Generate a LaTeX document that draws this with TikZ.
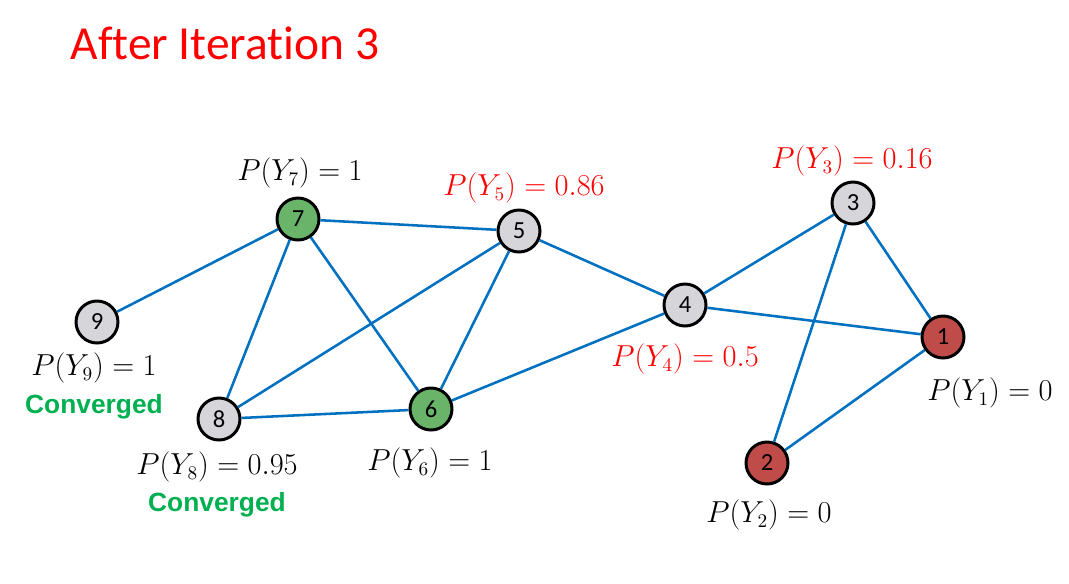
\documentclass[tikz,border=0pt]{standalone}
\usepackage{amsmath}
\usepackage{xcolor}
\usepackage[no-math]{fontspec}
\setmainfont[Ligatures=NoCommon]{Carlito}
\newfontfamily\arialfont{Liberation Sans}
\usepackage{tikz}
\usetikzlibrary{arrows.meta,positioning,calc}

\definecolor{edgeblue}{RGB}{0,112,192}
\definecolor{nodegray}{RGB}{214,214,218}
\definecolor{nodegreen}{RGB}{106,180,106}
\definecolor{nodered}{RGB}{192,76,74}
\definecolor{convgreen}{RGB}{0,176,80}

\begin{document}
\begin{tikzpicture}[
    x=0.02cm,y=-0.02cm,
    vtx/.style={circle, draw=black, line width=1.7pt, minimum size=0.84cm, inner sep=0pt, font=\fontsize{14}{15}\selectfont},
    plain/.style={vtx, fill=nodegray},
    done/.style={vtx, fill=nodegreen},
    seed/.style={vtx, fill=nodered},
    edge/.style={draw=edgeblue, line width=1.45pt},
    prob/.style={font=\fontsize{16}{18}\selectfont, inner sep=0pt},
    hot/.style={prob, text=red},
    conv/.style={font=\arialfont\bfseries\fontsize{15}{17}\selectfont, text=convgreen, inner sep=0pt},
    ttl/.style={font=\fontsize{27}{30}\selectfont, text=red, inner sep=0pt}
  ]
    \useasboundingbox (0,0) rectangle (1069,583);

    \node[ttl] (title) at (225,43) {After Iteration 3};

    \node[done] (n7) at (298,219) {7};
    \node[plain] (n5) at (519,231) {5};
    \node[plain] (n9) at (97,322) {9};
    \node[plain] (n8) at (219,419) {8};
    \node[done] (n6) at (431,409) {6};
    \node[plain] (n4) at (685,305) {4};
    \node[plain] (n3) at (853,203) {3};
    \node[seed] (n1) at (943,337) {1};
    \node[seed] (n2) at (767,463) {2};

    \draw[edge] (n7) -- (n9);
    \draw[edge] (n7) -- (n5);
    \draw[edge] (n7) -- (n8);
    \draw[edge] (n7) -- (n6);
    \draw[edge] (n5) -- (n8);
    \draw[edge] (n5) -- (n6);
    \draw[edge] (n5) -- (n4);
    \draw[edge] (n8) -- (n6);
    \draw[edge] (n6) -- (n4);
    \draw[edge] (n4) -- (n3);
    \draw[edge] (n4) -- (n1);
    \draw[edge] (n3) -- (n1);
    \draw[edge] (n3) -- (n2);
    \draw[edge] (n2) -- (n1);

    \node[prob] (p7) at (300,173) {$P(Y_7)=1$};
    \node[hot] (p5) at (524,188) {$P(Y_5)=0.86$};
    \node[prob] (p9) at (94,368) {$P(Y_9)=1$};
    \node[conv] (c9) at (94,407) {Converged};
    \node[prob] (p8) at (217,467) {$P(Y_8)=0.95$};
    \node[conv] (c8) at (217,505) {Converged};
    \node[prob] (p6) at (430,463) {$P(Y_6)=1$};
    \node[hot] (p4) at (685,359) {$P(Y_4)=0.5$};
    \node[hot] (p3) at (852,161) {$P(Y_3)=0.16$};
    \node[prob] (p1) at (990,393) {$P(Y_1)=0$};
    \node[prob] (p2) at (769,515) {$P(Y_2)=0$};
  \end{tikzpicture}
\end{document}
